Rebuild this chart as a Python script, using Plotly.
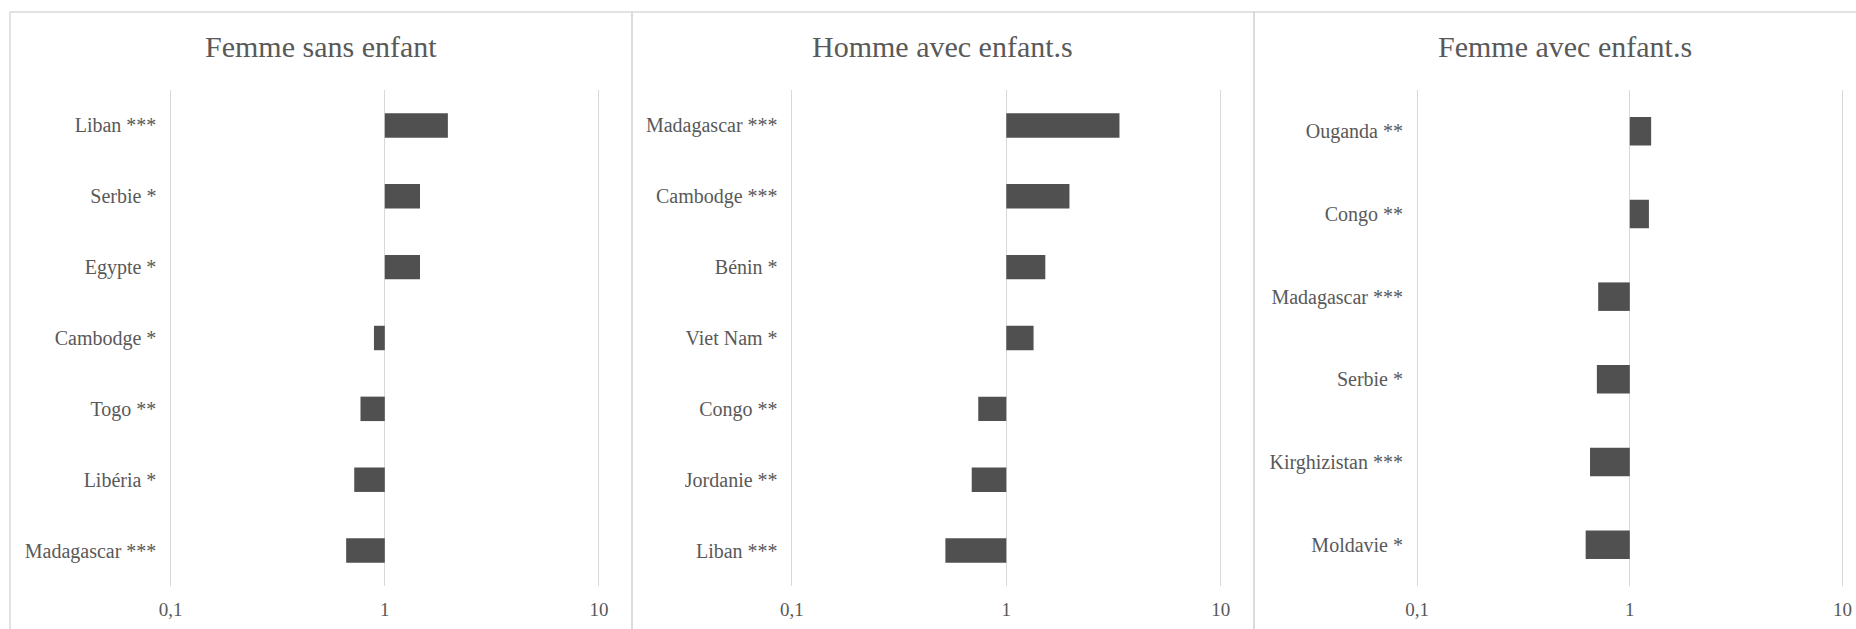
import plotly.graph_objects as go

# Odds ratios per country (log scale, reference = 1), listed top to bottom
titles = ["Femme sans enfant", "Homme avec enfant.s", "Femme avec enfant.s"]

pays_femme_sans = ["Liban ***", "Serbie *", "Egypte *", "Cambodge *", "Togo **", "Libéria *", "Madagascar ***"]
or_femme_sans = [1.97, 1.46, 1.46, 0.89, 0.77, 0.72, 0.66]

pays_homme_avec = ["Madagascar ***", "Cambodge ***", "Bénin *", "Viet Nam *", "Congo **", "Jordanie **", "Liban ***"]
or_homme_avec = [3.37, 1.97, 1.52, 1.34, 0.74, 0.69, 0.52]

pays_femme_avec = ["Ouganda **", "Congo **", "Madagascar ***", "Serbie *", "Kirghizistan ***", "Moldavie *"]
or_femme_avec = [1.26, 1.23, 0.71, 0.70, 0.65, 0.62]

tick_vals = [0.1, 1, 10]
tick_text = ["0,1", "1", "10"]

W, H = 1856, 629
TEXT = "#595959"
GRID = "#d9d9d9"
BAR = "#505050"
FONT = "Liberation Serif, Times New Roman, serif"

panels = [
    (pays_femme_sans, or_femme_sans),
    (pays_homme_avec, or_homme_avec),
    (pays_femme_avec, or_femme_avec),
]
# pixel positions of the 0.1 and 10 gridlines for each panel, and chart frames
plot_x = [(170.6, 599.0), (791.8, 1220.8), (1417.2, 1842.4)]
frames = [(10, 632), (632, 1254), (1254, 1876)]
title_x = [321, 943, 1565]
plot_top, plot_bottom = 90, 586
PAD = 0.015  # extra decades on each side so the edge gridlines are not clipped

fig = go.Figure()

for i, (labels, vals) in enumerate(panels):
    n = i + 1
    xa = "x" if n == 1 else f"x{n}"
    ya = "y" if n == 1 else f"y{n}"
    fig.add_trace(go.Bar(
        y=labels,
        x=[v - 1 for v in vals],
        base=[1] * len(vals),
        customdata=vals,
        hovertemplate="%{y}: %{customdata}<extra></extra>",
        orientation="h",
        marker=dict(color=BAR, line=dict(width=0)),
        xaxis=xa, yaxis=ya,
        showlegend=False,
    ))
    x0, x1 = plot_x[i]
    decade = (x1 - x0) / 2
    xkey = "xaxis" if n == 1 else f"xaxis{n}"
    ykey = "yaxis" if n == 1 else f"yaxis{n}"
    fig.layout[xkey] = dict(
        type="log", range=[-1 - PAD, 1 + PAD],
        domain=[(x0 - PAD * decade) / W, (x1 + PAD * decade) / W],
        anchor=ya,
        automargin=False,
        tickvals=tick_vals, ticktext=tick_text,
        showgrid=True, gridcolor=GRID, gridwidth=1,
        zeroline=False, showline=False, ticks="",
        tickfont=dict(family=FONT, size=19, color=TEXT),
        ticklabelstandoff=10,
        fixedrange=True,
    )
    fig.layout[ykey] = dict(
        domain=[1 - plot_bottom / H, 1 - plot_top / H],
        anchor=xa,
        automargin=False,
        autorange="reversed",
        showgrid=False, zeroline=False, showline=False, ticks="",
        tickfont=dict(family=FONT, size=20, color=TEXT),
        ticklabelstandoff=round(13 - PAD * decade),
        fixedrange=True,
    )
    fx0, fx1 = frames[i]
    fig.add_shape(type="rect", xref="paper", yref="paper",
                  x0=fx0 / W, x1=fx1 / W, y0=1 - 12 / H, y1=1 - 660 / H,
                  line=dict(color=GRID, width=1.5), fillcolor="rgba(0,0,0,0)", layer="below")
    fig.add_annotation(text=titles[i], xref="paper", yref="paper",
                       x=title_x[i] / W, y=1 - 46 / H, xanchor="center", yanchor="middle",
                       showarrow=False, font=dict(family=FONT, size=30, color=TEXT))

fig.update_layout(
    width=W, height=H,
    margin=dict(l=0, r=0, t=0, b=0, autoexpand=False),
    paper_bgcolor="white", plot_bgcolor="white",
    bargap=0.655,
)

fig.write_html("out.html")
